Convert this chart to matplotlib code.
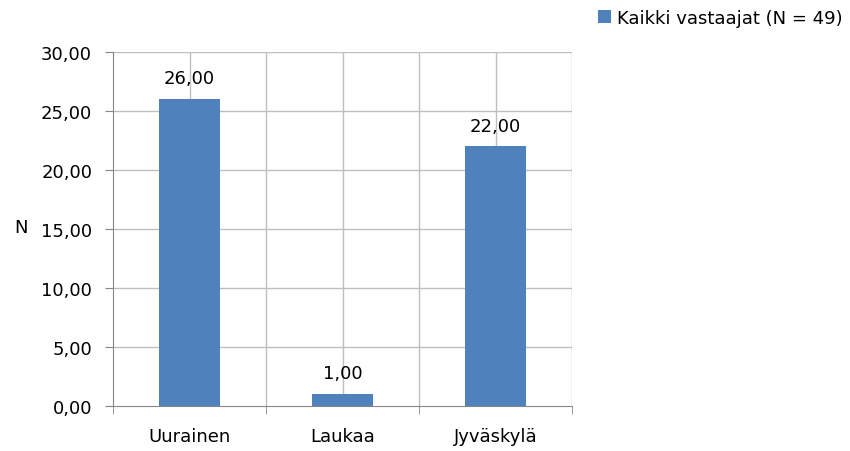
import matplotlib
matplotlib.use("Agg")
import matplotlib.pyplot as plt
import numpy as np

categories = ["Uurainen", "Laukaa", "Jyväskylä"]
values = [26.0, 1.0, 22.0]
series_name = "Kaikki vastaajat (N = 49)"
yticks = [0, 5, 10, 15, 20, 25, 30]

bar_color = "#4F81BD"
grid_color = "#BFBFBF"
axis_color = "#868686"
fs = 13

fig = plt.figure(figsize=(8.5, 4.52), dpi=100)
ax = fig.add_axes([113/850, 1-407/452, (572-113)/850, (407-53)/452])

x = np.arange(len(categories))
bars = ax.bar(x, values, width=0.4, color=bar_color, zorder=3, label=series_name)

ax.set_xlim(-0.5, len(categories) - 0.5)
ax.set_ylim(0, 30)
ax.set_yticks(yticks)
ax.set_yticklabels([f"{v:.2f}".replace(".", ",") for v in yticks], fontsize=fs)

# vertical gridlines at category centers and boundaries
for xv in np.arange(-0.5, len(categories) - 0.25, 0.5)[1:]:
    ax.axvline(xv, color=grid_color, lw=1, zorder=1)
for yv in yticks[1:]:
    ax.axhline(yv, color=grid_color, lw=1, zorder=1)

ax.set_xticks(x)
ax.set_xticklabels(categories, fontsize=fs)
ax.tick_params(axis="x", length=0, pad=15)
# boundary ticks
ax.set_xticks(np.arange(-0.5, len(categories), 1.0), minor=True)
ax.tick_params(axis="x", which="minor", length=6, color=axis_color, direction="out")
ax.tick_params(axis="y", length=6, color=axis_color, direction="out", pad=9)

for side in ["top", "right"]:
    ax.spines[side].set_visible(False)
for side in ["left", "bottom"]:
    ax.spines[side].set_color(axis_color)
    ax.spines[side].set_zorder(4)

for xi, v in zip(x, values):
    ax.annotate(f"{v:.2f}".replace(".", ","), (xi, v), xytext=(0, 15),
                textcoords="offset points", ha="center", va="center", fontsize=fs)

fig.text(14/850, 1-228/452, "N", fontsize=fs, ha="left", va="center")

leg = fig.legend(handles=[bars], labels=[series_name], loc="upper left",
                 bbox_to_anchor=(594/850, 1-6/452), frameon=False, fontsize=fs,
                 borderaxespad=0, borderpad=0.2,
                 handlelength=0.75, handleheight=0.75, handletextpad=0.35)

fig.savefig("out.png", dpi=100)
